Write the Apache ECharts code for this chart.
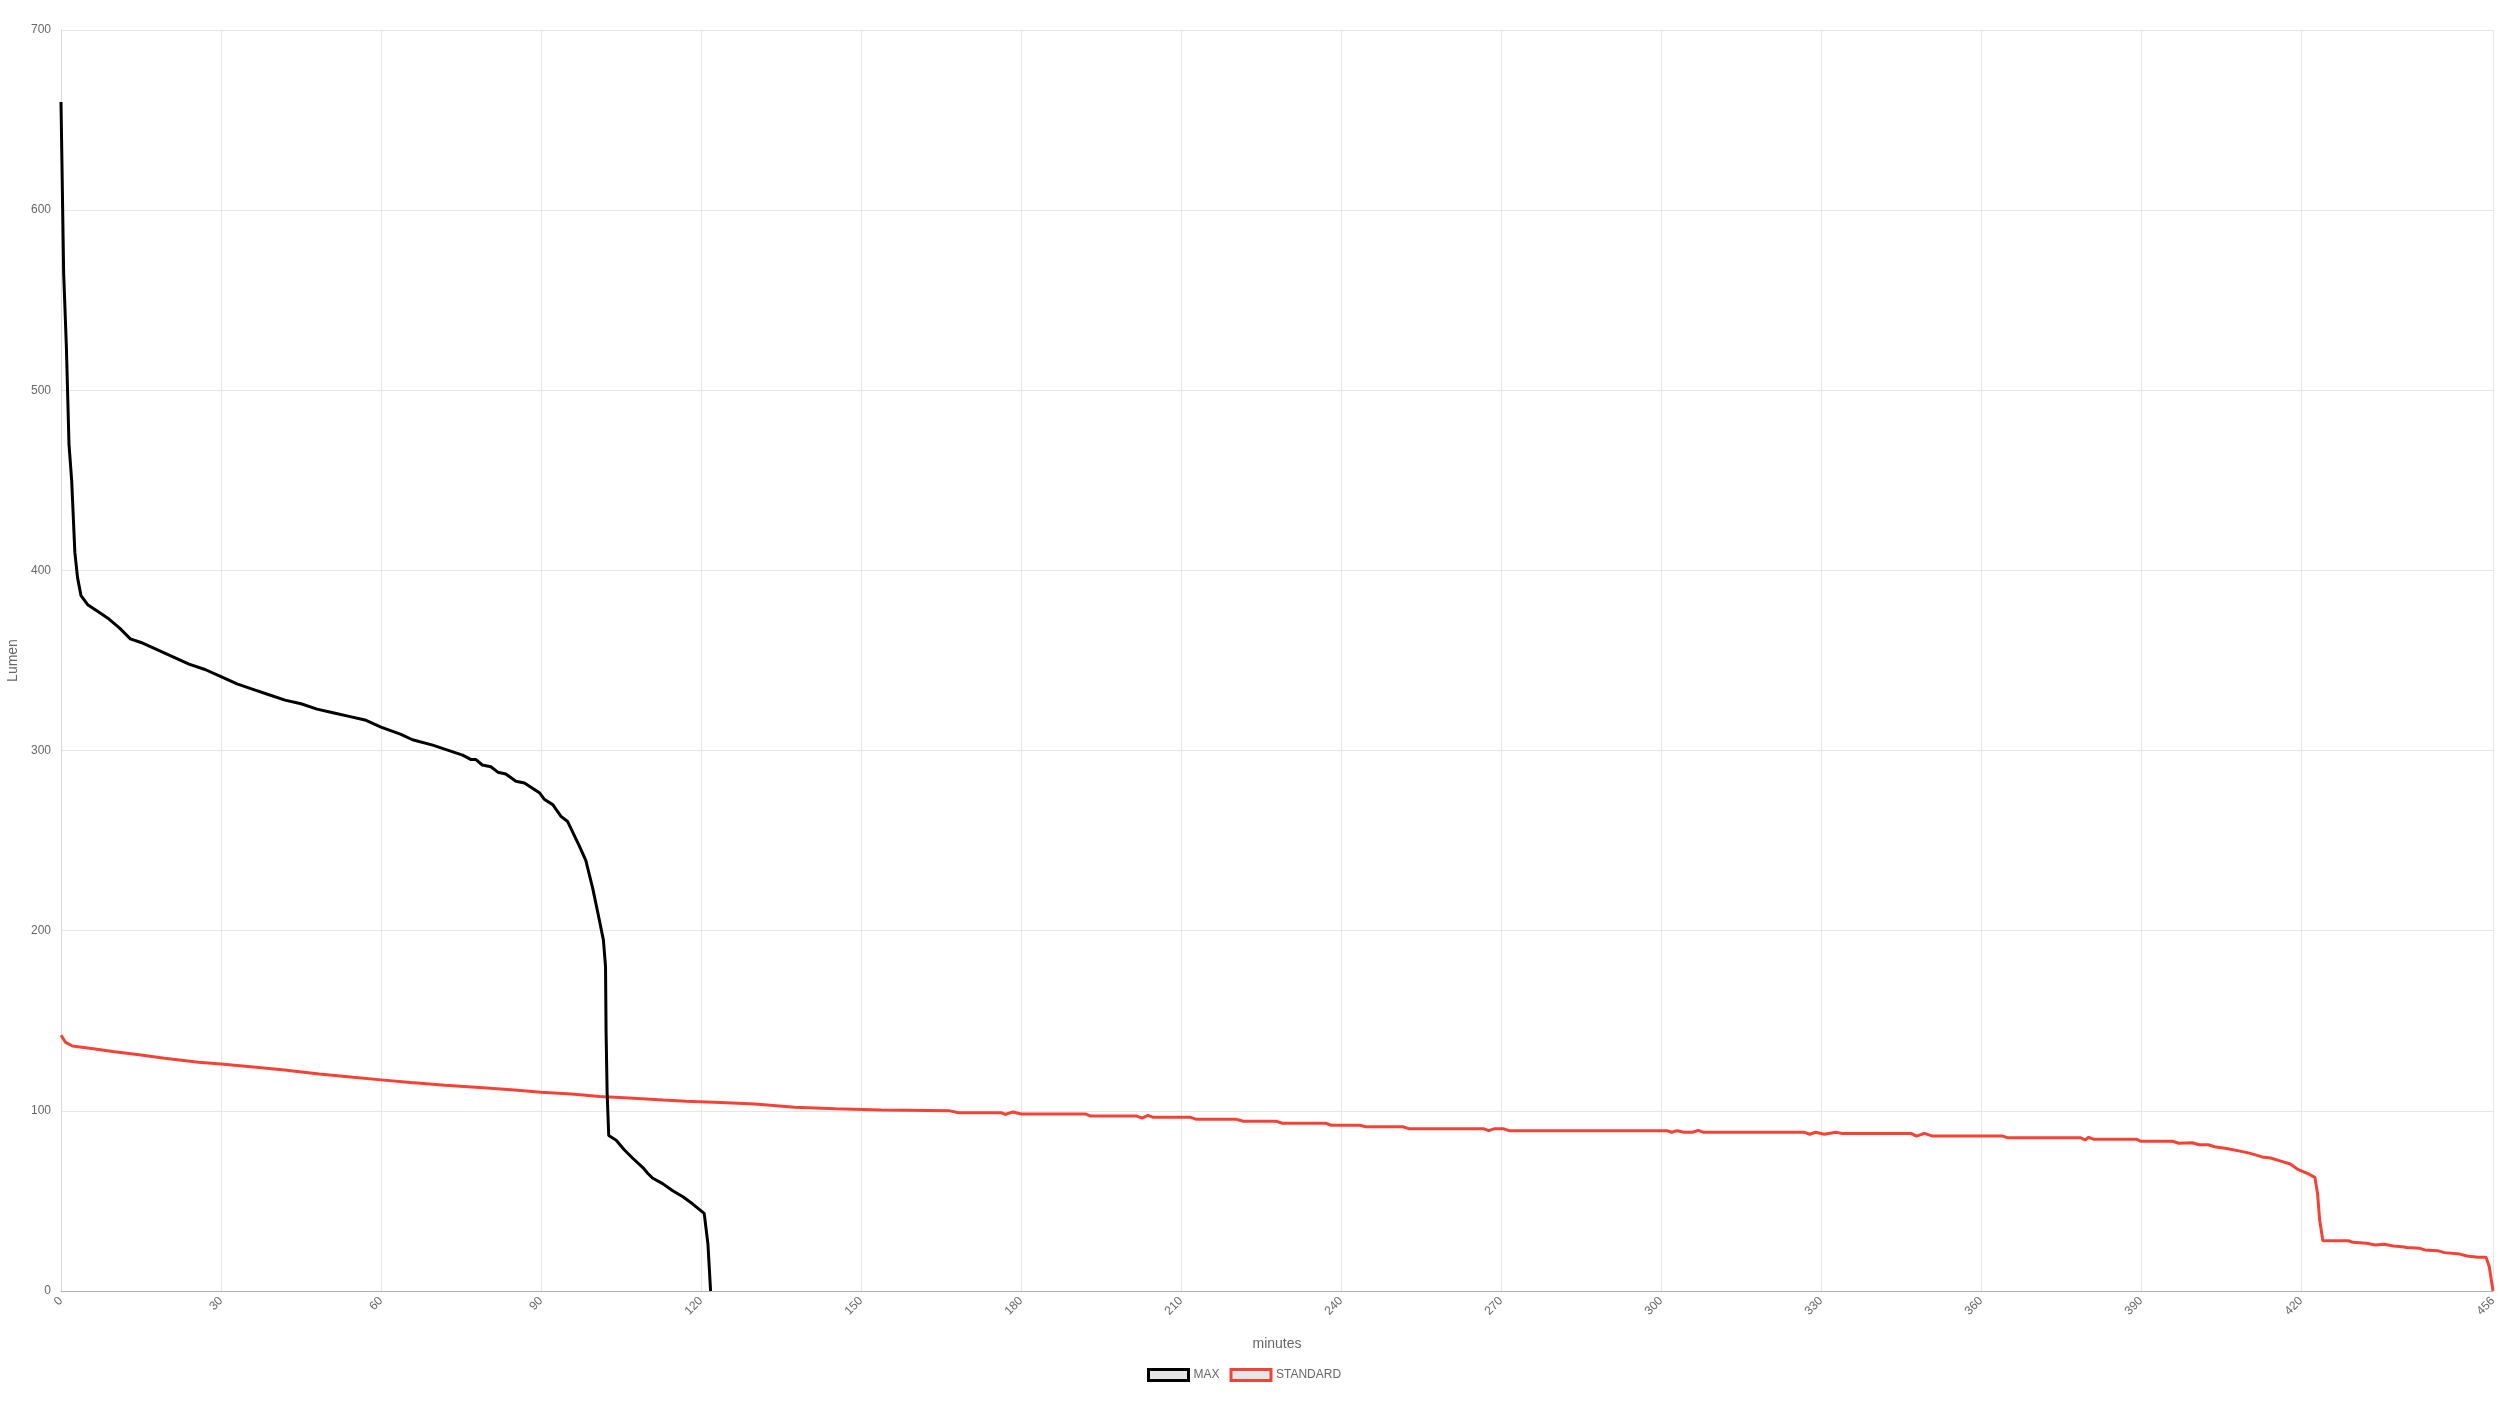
<!DOCTYPE html>
<html>
<head>
<meta charset="utf-8">
<script src="https://cdn.jsdelivr.net/npm/echarts@6/dist/echarts.min.js"></script>
<style>
html,body{margin:0;padding:0;background:#fff;}
#chart{width:2500px;height:1406px;}
</style>
</head>
<body>
<div id="chart"></div>
<script>
// ---- data ----
const xTickLabels = [0, 30, 60, 90, 120, 150, 180, 210, 240, 270, 300, 330, 360, 390, 420, 456];
const yTicks = [0, 100, 200, 300, 400, 500, 600, 700];

const maxMinutes = [0, 0.5, 1, 1.5, 2, 2.6, 3.1, 3.75, 5, 7, 9, 11, 13, 15, 18, 21, 24, 27, 30, 33, 36, 39, 42, 45, 48, 51, 54, 57, 60,
  63.75, 65.9, 69.7, 75.3, 76.9, 77.8, 79, 80.6, 81.9, 83.4, 85.3, 86.9, 89.7, 90.6, 92.2, 93.75, 95, 95.9, 97.2, 98.4, 99.7,
  100.9, 101.7, 102.1, 102.2, 102.4, 102.7, 104.1, 105.6, 107.2, 109.1, 110, 110.9, 112.8, 114.7, 116.6, 118.4, 120.6, 121.3, 121.8];
const maxLumen = [660, 565, 525, 470, 450, 410, 396, 386, 381, 377, 373, 368, 362, 360, 356, 352, 348, 345, 341, 337, 334, 331, 328, 326, 323, 321, 319, 317, 313,
  309, 306, 303, 297.5, 295, 295, 292, 291, 288, 287, 283, 282, 276.6, 273, 270, 263.5, 260.6, 255, 247, 239, 223.5,
  206.5, 194.8, 180, 144, 110, 86.3, 83.7, 78.4, 73.7, 68.5, 65.4, 62.7, 59.6, 55.7, 52.3, 48.4, 43.1, 26, 0];

const stdMinutes = [0, 0.86, 2.15, 5.4, 9.7, 15, 19.4, 25.8, 30, 36.6, 41.9, 48.4, 54.8, 60, 65.6, 72, 78.5, 85, 90, 95.7, 101, 106.5,
  112.9, 117.2, 123.7, 130.1, 137.6, 145.2, 153.8, 166.7, 168.3, 176.3, 177, 178.5, 180, 192, 193, 201.6, 202.7, 203.8, 204.8,
  211.8, 212.9, 220.4, 221.7, 227.9, 229, 237.1, 238.2, 243.5, 244.6, 251.6, 252.7, 266.7, 267.7, 268.8, 270.4, 271.5, 301.1,
  302, 303, 304.3, 305.9, 307, 308, 326.9, 327.9, 329, 330.6, 332.8, 333.9, 346.9, 347.9, 349.4, 350.9, 364.1, 364.9, 378.7,
  379.5, 380.2, 381.2, 389.2, 390, 395.9, 397.1, 399.6, 400.9, 402.6, 403.8, 406.3, 408.8, 410.5, 413, 414.3, 415.9, 418, 419.3,
  421.4, 422.6, 423.1, 423.5, 424.1, 428.9, 429.7, 432.3, 433.9, 435.6, 437.3, 439, 439.8, 442.3, 443.2, 445.6, 446.9, 449.8,
  451.1, 453.2, 454.7, 455.3, 456];
const stdLumen = [142, 138, 136, 134.7, 133, 131, 129.2, 127, 126, 124.2, 122.7, 120.5, 118.6, 117.2, 115.7, 114.2, 112.9, 111.6, 110.3, 109.4, 108, 107.2,
  106, 105.3, 104.6, 103.8, 102, 101.2, 100.5, 100, 99, 99, 98, 99.4, 98.3, 98.3, 97.2, 97.2, 96, 97.5, 96.4,
  96.4, 95.3, 95.3, 94.2, 94.2, 93.1, 93.1, 92, 92, 91.2, 91.2, 90.1, 90.1, 89, 90.1, 90.1, 89, 89,
  88.1, 89, 88.1, 88.1, 89.2, 88.1, 88.1, 87, 88.1, 87, 88.1, 87.5, 87.5, 86, 87.5, 86, 86, 85.1, 85.1,
  83.8, 85.3, 84.2, 84.2, 83.1, 83.1, 82, 82.3, 81.2, 81.2, 80.1, 79, 77.5, 76.4, 74.2, 73.8, 72.4, 70.5, 67.7,
  65, 63.1, 54.2, 39.4, 27.9, 27.9, 27, 26.5, 25.5, 25.9, 25, 24.6, 24.1, 23.7, 22.8, 22.4, 21.3, 20.5,
  19.4, 18.7, 18.7, 13.5, 0];

const seriesNames = ['MAX', 'STANDARD'];
// ---------------------------------------

function zip(xs, ys) { return xs.map((x, i) => [x, ys[i]]); }

const FONT = 'Liberation Sans, Arial, Helvetica, sans-serif';
const chart = echarts.init(document.getElementById('chart'), null, {renderer: 'canvas'});
chart.setOption({
  animation: false,
  backgroundColor: '#ffffff',
  textStyle: {fontFamily: FONT},
  grid: {left: 61, right: 7, top: 30, bottom: 115, containLabel: false, outerBoundsMode: 'none'},
  legend: {
    bottom: 19,
    left: 1142,
    icon: 'rect',
    itemWidth: 40,
    itemHeight: 11,
    itemGap: 10,
    textStyle: {color: '#666', fontSize: 12, fontFamily: FONT},
    data: [
      {name: seriesNames[0], itemStyle: {color: '#e6e6e6', borderColor: '#000000', borderWidth: 3}},
      {name: seriesNames[1], itemStyle: {color: '#e6e6e6', borderColor: '#f44336', borderWidth: 3}}
    ]
  },
  xAxis: {
    type: 'value',
    min: 0,
    max: 456,
    name: 'minutes',
    nameLocation: 'middle',
    nameGap: 46,
    nameTextStyle: {color: '#666', fontSize: 14, fontFamily: FONT},
    axisLine: {show: true, lineStyle: {color: '#b0b0b0', width: 1}},
    axisTick: {show: false, customValues: xTickLabels},
    axisLabel: {
      customValues: xTickLabels,
      rotate: 45,
      margin: 8,
      color: '#666',
      fontSize: 12,
      fontFamily: FONT
    },
    splitLine: {show: true, lineStyle: {color: '#e6e6e6', width: 1}}
  },
  yAxis: {
    type: 'value',
    min: 0,
    max: 700,
    interval: 100,
    name: 'Lumen',
    nameLocation: 'middle',
    nameGap: 41,
    nameTextStyle: {color: '#666', fontSize: 14, fontFamily: FONT},
    axisLine: {show: true, lineStyle: {color: '#d9d9d9', width: 1}},
    axisTick: {show: false},
    axisLabel: {color: '#666', fontSize: 12, margin: 10, fontFamily: FONT},
    splitLine: {show: true, lineStyle: {color: '#e6e6e6', width: 1}}
  },
  series: [
    {
      name: seriesNames[0],
      type: 'line',
      z: 3,
      data: zip(maxMinutes, maxLumen),
      showSymbol: false,
      symbol: 'none',
      color: '#000000',
      lineStyle: {color: '#000000', width: 3}
    },
    {
      name: seriesNames[1],
      type: 'line',
      z: 2,
      data: zip(stdMinutes, stdLumen),
      showSymbol: false,
      symbol: 'none',
      color: '#f44336',
      lineStyle: {color: '#f44336', width: 3}
    }
  ]
});
</script>
</body>
</html>
